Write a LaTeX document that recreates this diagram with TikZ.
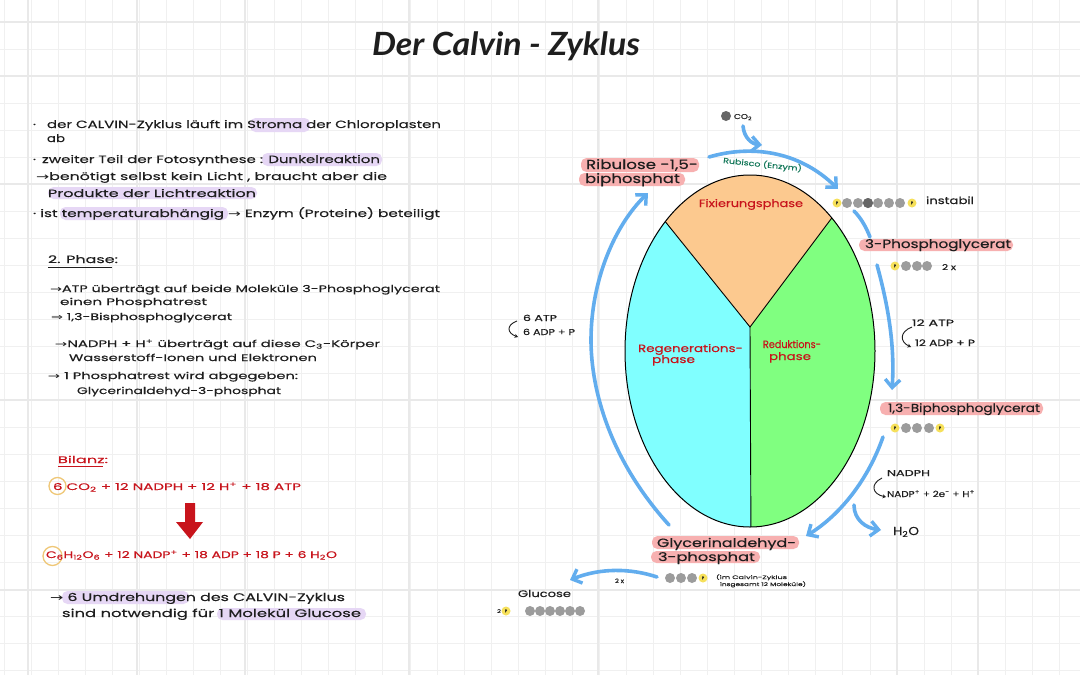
\documentclass[tikz,border=0pt]{standalone}
\usepackage{graphicx}
\usepackage{fontspec}
\setmainfont{Poppins}[FakeBold=0.25]
\newfontfamily\djv{DejaVu Sans}
\newfontfamily\titlefont{Lato}
\usetikzlibrary{arrows.meta}
\definecolor{gridc}{HTML}{F0F0F0}
\definecolor{gridd}{HTML}{E9E9E9}
\definecolor{lila}{HTML}{E6D7F5}
\definecolor{rosa}{HTML}{F7B0B0}
\definecolor{blau}{HTML}{62ADEE}
\definecolor{rot}{HTML}{C8141C}
\definecolor{ink}{HTML}{1E1E1E}
\definecolor{orng}{HTML}{FCC98F}
\definecolor{cyn}{HTML}{80FFFF}
\definecolor{grn}{HTML}{80FF80}
\definecolor{gelb}{HTML}{F6E05A}
\definecolor{gballc}{HTML}{9C9C9C}
\definecolor{ringc}{HTML}{EFC777}
\definecolor{teal2}{HTML}{14785A}
\newcommand{\rarr}{{\djv →}}
\newcommand{\Rarr}{{\djv ⇒}}
\newsavebox\lblbox
\newcommand{\ys}{1}
\newcommand{\fitw}[2]{\sbox\lblbox{#2}\pgfmathsetmacro\xsf{#1/\the\wd\lblbox}\scalebox{\xsf}[\ys]{\usebox\lblbox}}
\newcommand{\lbl}[6][ink]{\node[txt,text=#1] (#2) at (#3,#4) {\fitw{#5}{#6}};}
\newcommand{\hl}[5]{\fill[#1,rounded corners=5.5pt] (#2,#3) rectangle (#4,#5);}
\tikzset{
  txt/.style={anchor=base west,inner sep=0pt,outer sep=0pt},
  flow/.style={draw=blau,line width=3.6pt,line cap=round,-{Straight Barb[length=8pt,width=15pt,line width=3.4pt]}},
  flowplain/.style={draw=blau,line width=3.6pt,line cap=round},
  curl/.style={draw=ink,line width=0.9pt,-{Stealth[length=3.5pt,width=4pt]}},
  ul/.style={line width=1pt},
  ring/.style={draw=ringc,line width=1.3pt,circle,inner sep=0pt},
  gball/.style={circle,fill=gballc,inner sep=0pt,minimum size=10pt},
  pball/.style={circle,fill=gelb,inner sep=0pt,minimum size=9pt,text=ink,font=\fontsize{4}{4}\selectfont},
}
\begin{document}
\begin{tikzpicture}[x=1pt,y=-1pt]
\useasboundingbox (0,0) rectangle (1080,675);
\fill[white] (0,0) rectangle (1080,675);
% grid
\foreach \k in {0,...,39}{\draw[gridc,line width=0.8pt] ({4+27.06*\k},0) -- ({4+27.06*\k},675);}
\foreach \k in {0,...,24}{\draw[gridc,line width=0.8pt] (0,{22+27.03*\k}) -- (1080,{22+27.03*\k});}
\foreach \xx in {28,137,245,409,598,897,978}{\draw[gridd,line width=1.1pt] (\xx,0) -- (\xx,675);}
\foreach \yy in {22,76,184,400,590}{\draw[gridd,line width=1.1pt] (0,\yy) -- (1080,\yy);}
% highlights
\hl{lila}{250}{118}{310}{132}
\hl{lila}{262}{153}{382}{166}
\hl{lila}{48}{187}{257}{199}
\hl{lila}{60}{207}{228}{220}
\hl{lila}{62}{591}{189}{604}
\hl{lila}{217}{608}{366}{620}
\hl{rosa}{581}{158}{699}{172}
\hl{rosa}{579}{173}{685}{186}
\hl{rosa}{859}{239}{1013}{251}
\hl{rosa}{880}{402}{1043}{415}
\hl{rosa}{652}{536}{799}{549}
\hl{rosa}{651}{551}{760}{563}
% title
\renewcommand{\ys}{3.2}
\lbl{titel}{372}{55}{268}{\titlefont\bfseries\itshape Der Calvin - Zyklus}
% left text
\renewcommand{\ys}{1.05}
\lbl{l1b}{33}{128}{3}{·}
\lbl{l1}{47}{128}{394}{der CALVIN-Zyklus läuft im Stroma der Chloroplasten}
\lbl{l2}{47}{142}{18}{ab}
\lbl{l3b}{33}{163}{3}{·}
\lbl{l3}{42}{163}{338}{zweiter Teil der Fotosynthese : Dunkelreaktion}
\lbl{l4}{36}{180}{351}{\rarr benötigt selbst kein Licht , braucht aber die}
\lbl{l5}{48}{197}{208}{Produkte der Lichtreaktion}
\lbl{l6}{33}{217}{407}{· ist temperaturabhängig \rarr{} Enzym (Proteine) beteiligt}
\lbl{p0}{48}{263}{70}{2. Phase:}
\draw[ink,ul] (48,267) -- (112,267);
\renewcommand{\ys}{0.95}
\lbl{p1}{50}{292}{390}{\rarr ATP überträgt auf beide Moleküle 3-Phosphoglycerat}
\lbl{p2}{60}{305}{147}{einen Phosphatrest}
\lbl{p3}{51}{320}{181}{\Rarr{} 1,3-Bisphosphoglycerat}
\lbl{p4}{55}{347}{325}{\rarr NADPH + H\textsuperscript{+} überträgt auf diese C\textsubscript{3}-Körper}
\lbl{p5}{69}{361}{248}{Wasserstoff-Ionen und Elektronen}
\lbl{p6}{48}{379}{250}{\rarr{} 1 Phosphatrest wird abgegeben:}
\lbl{p7}{77}{394}{204}{Glycerinaldehyd-3-phosphat}
% balance
\lbl[rot]{bil}{58}{463}{50}{Bilanz:}
\draw[rot,ul] (58,466) -- (103,466);
\node[ring,minimum size=17pt] (r1) at (57.5,486) {};
\lbl[rot]{b1}{53}{490}{248}{6 CO\textsubscript{2} + 12 NADPH + 12 H\textsuperscript{+} + 18 ATP}
\fill[rot] (185,503) -- (195,503) -- (195,522) -- (203,522) -- (190,539) -- (176,522) -- (185,522) -- cycle;
\node[ring,minimum size=19pt] (r2) at (52.5,556) {};
\lbl[rot]{b2}{46}{558}{291}{C\textsubscript{6}H\textsubscript{12}O\textsubscript{6} + 12 NADP\textsuperscript{+} + 18 ADP + 18 P + 6 H\textsubscript{2}O}
\renewcommand{\ys}{1.1}
\lbl{b3}{50}{601}{295}{\rarr{} 6 Umdrehungen des CALVIN-Zyklus}
\lbl{b4}{62}{617}{299}{sind notwendig für 1 Molekül Glucose}
% ellipse
\begin{scope}
\clip (750,351) ellipse [x radius=125,y radius=176];
\fill[cyn] (600,150) rectangle (760,540);
\fill[grn] (750,327) -- (751,540) -- (900,540) -- (900,100) -- cycle;
\fill[orng] (750,327) -- (600,140.4) -- (900,127) -- cycle;
\draw[black,line width=0.9pt] (600,140.4) -- (750,327) -- (900,127);
\draw[black,line width=0.9pt] (750,327) -- (751,540);
\end{scope}
\draw[black,line width=1pt] (750,351) ellipse [x radius=125,y radius=176];
\renewcommand{\ys}{1.05}
\lbl[rot]{fix}{699}{207}{104}{Fixierungsphase}
\lbl[rot]{reg1}{638}{352}{105}{Regenerations-}
\lbl[rot]{reg2}{652}{363}{43}{phase}
\lbl[rot]{red1}{763}{348}{58}{Reduktions-}
\lbl[rot]{red2}{769}{360}{42}{phase}
% CO2 and top arcs
\node[circle,fill=black!60,inner sep=0pt,minimum size=10pt] (co2ball) at (726,116) {};
\renewcommand{\ys}{0.7}
\lbl{co2}{734}{119}{18}{CO\textsubscript{2}}
\coordinate (co2s) at (743,126);
\coordinate (co2e) at (762,145);
\draw[flow] (co2s) .. controls (744,138) and (752,144) .. (co2e);
\coordinate (rbs) at (709,157);
\coordinate (rbe) at (838,189);
\draw[flow] (rbs) .. controls (750,145) and (798,150) .. (rbe);
\renewcommand{\ys}{0.75}
\node[txt,text=teal2,rotate=-6] (rub) at (723,163) {\fitw{79}{Rubisco (Enzym)}};
\renewcommand{\ys}{1.3}
\lbl{rib1}{586}{169}{112}{Ribulose -1,5-}
\lbl{rib2}{585}{183}{95}{biphosphat}
% top chain
\node[pball] (ta) at (837,203) {P};
\foreach \n/\xx in {1/847,2/858,3/868,4/878,5/889,6/900}{\node[gball] (tg\n) at (\xx,203) {};}
\node[gball,fill=black!60] at (tg3) {};
\node[pball] (tb) at (912,203) {P};
\renewcommand{\ys}{1}
\lbl{inst}{926}{204}{48}{instabil}
\coordinate (a1s) at (854,211);
\coordinate (a1e) at (870,237);
\draw[flowplain] (a1s) .. controls (861,218) and (866,227) .. (a1e);
\renewcommand{\ys}{1.2}
\lbl{pg}{865}{248}{146}{3-Phosphoglycerat}
\node[pball] (pa) at (895,266) {P};
\foreach \n/\xx in {1/906,2/917,3/927}{\node[gball] (pg\n) at (\xx,266) {};}
\renewcommand{\ys}{0.8}
\lbl{zx}{942}{270}{14}{2 x}
\coordinate (a2s) at (877,265);
\coordinate (a2e) at (892,390);
\draw[flow] (a2s) .. controls (888,305) and (895,345) .. (a2e);
\renewcommand{\ys}{0.9}
\lbl{atp}{912}{326}{42}{12 ATP}
\lbl{adp}{915}{346}{60}{12 ADP + P}
\coordinate (c1s) at (912,327);
\coordinate (c1e) at (911,347);
\draw[curl] (c1s) .. controls (899,332) and (900,342) .. (c1e);
\renewcommand{\ys}{1.15}
\lbl{bpg}{888}{412}{152}{1,3-Biphosphoglycerat}
\node[pball] (ba) at (895,428) {P};
\foreach \n/\xx in {1/906,2/917,3/929}{\node[gball] (bg\n) at (\xx,428) {};}
\node[pball] (bb) at (940,428) {P};
\coordinate (a3s) at (883,437);
\coordinate (a3e) at (806,536);
\draw[flow] (a3s) .. controls (868,480) and (840,515) .. (a3e);
\renewcommand{\ys}{0.85}
\lbl{nadph}{887}{476}{43}{NADPH}
\lbl{nadp}{887}{497}{88}{NADP\textsuperscript{+} + 2e\textsuperscript{-} + H\textsuperscript{+}}
\coordinate (c2s) at (882,478);
\coordinate (c2e) at (886,497);
\draw[curl] (c2s) .. controls (870,484) and (872,494) .. (c2e);
\coordinate (a4s) at (854,505);
\coordinate (a4e) at (881,530);
\draw[flow] (a4s) .. controls (854,520) and (866,528) .. (a4e);
\renewcommand{\ys}{1.15}
\lbl{hzo}{893}{535}{26}{H\textsubscript{2}O}
\renewcommand{\ys}{1.2}
\lbl{gap1}{657}{547}{139}{Glycerinaldehyd-}
\lbl{gap2}{658}{561}{97}{3-phosphat}
\foreach \n/\xx in {1/670,2/681,3/692}{\node[gball] (gg\n) at (\xx,578) {};}
\node[pball] (ga) at (703,578) {P};
\renewcommand{\ys}{0.5}
\lbl{gt1}{716}{579}{71}{(im Calvin-Zyklus}
\lbl{gt2}{720}{586}{86}{insgesamt 12 Moleküle)}
% regeneration arc
\coordinate (a5s) at (669,525);
\coordinate (a5e) at (648,193);
\draw[flow] (a5s) .. controls (610,460) and (591,390) .. (591,340) .. controls (591,280) and (615,225) .. (a5e);
\renewcommand{\ys}{0.85}
\lbl{atp6}{523}{321}{34}{6 ATP}
\lbl{adp6}{523}{335}{52}{6 ADP + P}
\coordinate (c3s) at (517,321);
\coordinate (c3e) at (518,337);
\draw[curl] (c3s) .. controls (506,325) and (507,333) .. (c3e);
% glucose
\coordinate (a6s) at (657,577);
\coordinate (a6e) at (570,580);
\draw[flow] (a6s) .. controls (630,568) and (600,568) .. (a6e);
\renewcommand{\ys}{0.6}
\lbl{zx2}{615}{583}{9}{2 x}
\renewcommand{\ys}{0.95}
\lbl{glu}{518}{597}{53}{Glucose}
\renewcommand{\ys}{0.5}
\lbl{two}{497}{613}{4}{2}
\node[pball] (glp) at (506,611) {P};
\foreach \n/\xx in {1/530,2/540,3/550,4/560,5/570,6/580}{\node[gball] (gl\n) at (\xx,611) {};}
\end{tikzpicture}
\end{document}
